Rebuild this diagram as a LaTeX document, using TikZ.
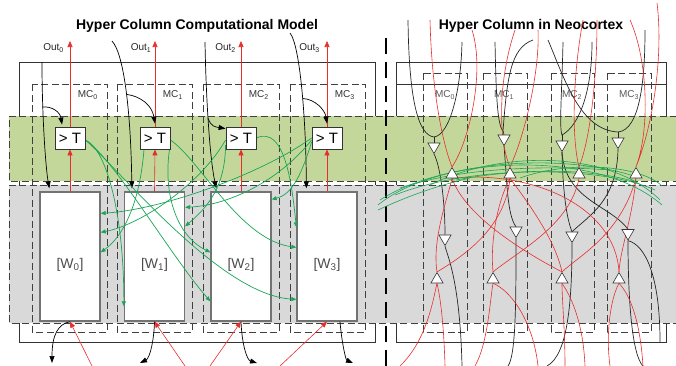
\documentclass[tikz,border=0pt]{standalone}
\usepackage{fontspec}
\setmainfont{Liberation Sans}
\usetikzlibrary{arrows.meta,shapes.geometric}
\pgfdeclarelayer{bg}
\pgfdeclarelayer{front}
\pgfsetlayers{bg,main,front}
\definecolor{bandgreen}{RGB}{196,215,155}
\definecolor{bandgrey}{RGB}{217,217,217}
\definecolor{lred}{RGB}{232,45,45}
\definecolor{lgreen}{RGB}{25,165,85}
\tikzset{
 outerbox/.style={draw=black!80, line width=0.8pt},
 bandb/.style={draw=black!75, line width=0.7pt, dash pattern=on 7pt off 3.5pt},
 mcbox/.style={draw=black!75, line width=0.7pt, dash pattern=on 7pt off 3.5pt},
 wbox/.style={draw=black!55, line width=1.3pt, fill=white, minimum width=60pt, minimum height=129pt, inner sep=0pt},
 tbox/.style={draw=black!80, line width=0.8pt, fill=white, minimum width=30pt, minimum height=22pt, inner sep=0pt, font=\fontsize{15}{15}\selectfont},
 redarr/.style={draw=lred, line width=0.6pt, -{Triangle[length=6pt,width=5pt]}},
 blkarr/.style={draw=black, line width=0.7pt, -{Triangle[length=7pt,width=5pt]}},
 grnarr/.style={draw=lgreen, line width=0.7pt, -{Triangle[length=5pt,width=4pt]}},
 redln/.style={draw=lred, line width=0.6pt},
 blkln/.style={draw=black!85, line width=0.7pt},
 grnln/.style={draw=lgreen, line width=0.6pt},
 trup/.style={regular polygon, regular polygon sides=3, draw=black!80, fill=white, minimum size=14pt, inner sep=0pt, line width=0.6pt},
 trdn/.style={trup, shape border rotate=180},
 mclab/.style={font=\fontsize{10}{12}\selectfont, text=black!80, anchor=east, inner sep=0pt},
 mclabr/.style={font=\fontsize{10}{12}\selectfont, text=black!65, inner sep=0pt},
 outlab/.style={font=\fontsize{10}{12}\selectfont, text=black!85, anchor=east, inner sep=0pt},
 wlab/.style={font=\fontsize{14}{16}\selectfont, text=black!70, inner sep=0pt},
 ttl/.style={font=\bfseries\fontsize{14}{16}\selectfont, inner sep=0pt},
 divider/.style={draw=black, line width=2.8pt, dash pattern=on 16pt off 8pt},
}
\begin{document}
\begin{tikzpicture}[x=1pt,y=-1pt]
\useasboundingbox (0,0) rectangle (676,365);
% ---------------- background layer ----------------
\begin{pgfonlayer}{bg}
 \draw[outerbox] (19,62) rectangle (375,342);
 \draw[outerbox] (396,62) rectangle (666,342);
 \coordinate (hl1) at (396,84); \coordinate (hl2) at (666,84);
 \draw[outerbox] (hl1) -- (hl2);
 \fill[bandgreen] (9,116) rectangle (677,181);
 \draw[bandb] (677,116) -- (9,116) -- (9,181) -- (677,181);
 \fill[bandgrey] (9,185) rectangle (677,323);
 \draw[bandb] (677,185) -- (9,185) -- (9,323) -- (677,323);
 % MC boxes left
 \draw[mcbox] (32,84) rectangle (107,332);
 \draw[mcbox] (117,84) rectangle (192,332);
 \draw[mcbox] (203,84) rectangle (279,332);
 \draw[mcbox] (290,84) rectangle (365,332);
 % MC boxes right
 \draw[mcbox] (423,73) rectangle (467,332);
 \draw[mcbox] (483,73) rectangle (527,332);
 \draw[mcbox] (551,73) rectangle (594,332);
 \draw[mcbox] (607,73) rectangle (651,332);
 % MC labels
 \node[mclab] (lm0) at (98,95) {MC\textsubscript{0}};
 \node[mclab] (lm1) at (183,95) {MC\textsubscript{1}};
 \node[mclab] (lm2) at (269,95) {MC\textsubscript{2}};
 \node[mclab] (lm3) at (355,95) {MC\textsubscript{3}};
 \node[mclabr] (rm0) at (445,95) {MC\textsubscript{0}};
 \node[mclabr] (rm1) at (504,95) {MC\textsubscript{1}};
 \node[mclabr] (rm2) at (572,95) {MC\textsubscript{2}};
 \node[mclabr] (rm3) at (629,95) {MC\textsubscript{3}};
 % W boxes
 \node[wbox] (W0) at (70,256.5) {};
 \node[wbox] (W1) at (154.5,256.5) {};
 \node[wbox] (W2) at (241,256.5) {};
 \node[wbox] (W3) at (327,256.5) {};
 \node[wlab] (W0l) at (70,264.5) {[W\textsubscript{0}]};
 \node[wlab] (W1l) at (154.5,264.5) {[W\textsubscript{1}]};
 \node[wlab] (W2l) at (241,264.5) {[W\textsubscript{2}]};
 \node[wlab] (W3l) at (327,264.5) {[W\textsubscript{3}]};
\end{pgfonlayer}
% ---------------- front layer: boxes and triangles ----------------
\begin{pgfonlayer}{front}
 \node[tbox] (T0) at (70,138) {> T};
 \node[tbox] (T1) at (155,138) {> T};
 \node[tbox] (T2) at (241,138) {> T};
 \node[tbox] (T3) at (327,138) {> T};
 \node[trdn] (D10) at (434,146.5) {};
 \node[trdn] (D11) at (504,138.5) {};
 \node[trdn] (D12) at (562,144.5) {};
 \node[trdn] (D13) at (618,141.5) {};
 \node[trup] (U10) at (452,174.5) {};
 \node[trup] (U11) at (510,174.5) {};
 \node[trup] (U12) at (579,174.5) {};
 \node[trup] (U13) at (636,174.5) {};
 \node[trdn] (D20) at (445,238.5) {};
 \node[trdn] (D21) at (516,230.5) {};
 \node[trdn] (D22) at (572,235.5) {};
 \node[trdn] (D23) at (628,233) {};
 \node[trup] (U20) at (437,279.5) {};
 \node[trup] (U21) at (493,279.5) {};
 \node[trup] (U22) at (562,279.5) {};
 \node[trup] (U23) at (619,279.5) {};
\end{pgfonlayer}
% ---------------- titles ----------------
\node[ttl] (title1) at (197,26) {Hyper Column Computational Model};
\node[ttl] (title2) at (531,26) {Hyper Column in Neocortex};
% ---------------- divider ----------------
\coordinate (dv1) at (386,38); \coordinate (dv2) at (386,366);
\draw[divider] (dv1) -- (dv2);
% ---------------- left panel: outputs ----------------
\coordinate (o0) at (70,41); \coordinate (o1) at (155,41);
\coordinate (o2) at (241,41); \coordinate (o3) at (327,41);
\draw[redarr] (T0.north) -- (o0);
\draw[redarr] (T1.north) -- (o1);
\draw[redarr] (T2.north) -- (o2);
\draw[redarr] (T3.north) -- (o3);
\node[outlab] (ol0) at (64,48) {Out\textsubscript{0}};
\node[outlab] (ol1) at (151.5,48) {Out\textsubscript{1}};
\node[outlab] (ol2) at (236,48) {Out\textsubscript{2}};
\node[outlab] (ol3) at (320,48) {Out\textsubscript{3}};
\draw[redarr] (W0.north) -- (T0.south);
\draw[redarr] (W1.north) -- (T1.south);
\draw[redarr] (W2.north) -- (T2.south);
\draw[redarr] (W3.north) -- (T3.south);
% ---------------- left panel: black inputs ----------------
\coordinate (i0) at (42,62);   \coordinate (b0) at (42.3,107);
\coordinate (i1) at (112,41);  \coordinate (b1) at (126.6,94.4);
\coordinate (i2) at (205,42);  \coordinate (b2) at (208.2,118.5);
\coordinate (i3) at (290,33);  \coordinate (b3) at (302.7,98.5);
\draw[blkarr] (i0) .. controls (42,120) and (46,170) .. ([xshift=10pt,yshift=3pt]W0.north west);
\draw[blkarr] (b0) .. controls (52,106) and (60,112) .. ([xshift=-8pt,yshift=2pt]T0.north);
\draw[blkarr] (i1) .. controls (125,55) and (131,120) .. ([xshift=8pt,yshift=3pt]W1.north west);
\draw[blkarr] (b1) .. controls (140,96) and (152,105) .. ([yshift=3pt]T1.north);
\draw[blkarr] (i2) .. controls (206,100) and (210,160) .. ([xshift=6pt,yshift=3pt]W2.north west);
\draw[blkarr] (b2) .. controls (211,127) and (216,127) .. ([yshift=-2pt]T2.north west);
\draw[blkarr] (i3) .. controls (300,45) and (306,120) .. ([xshift=10pt,yshift=3pt]W3.north west);
\draw[blkarr] (b3) .. controls (315,99) and (325,110) .. ([yshift=3pt]T3.north);
% ---------------- left panel: bottom ----------------
\coordinate (d0) at (52,363); \coordinate (d1) at (140,363);
\coordinate (d2) at (257,363); \coordinate (d3) at (353,363);
\draw[blkarr] (W0.south) .. controls (58,324) and (52,335) .. (d0);
\draw[blkarr] (W1.south) .. controls (154,340) and (150,358) .. (d1);
\draw[blkarr] (W2.south) .. controls (242,345) and (247,360) .. (d2);
\draw[blkarr] ([xshift=13pt]W3.south) .. controls (342,345) and (346,360) .. (d3);
\coordinate (rl0) at (92,366); \coordinate (rl1) at (185,366);
\coordinate (rl2) at (210,366); \coordinate (rl3) at (280,366);
\draw[redarr] (rl0) -- (W0.south);
\draw[redarr] (rl1) -- (W1.south);
\draw[redarr] (rl2) -- (W2.south);
\draw[redarr] (rl3) -- (W3.south);
% ---------------- left panel: green lateral connections ----------------
\draw[grnarr] ([yshift=-2pt]T0.east) .. controls (108,150) and (124,220) .. ([yshift=-115pt]W1.north west);
\draw[grnarr] ([yshift=-2pt]T0.east) .. controls (115,160) and (170,255) .. ([yshift=-110pt]W2.north west);
\draw[grnarr] ([yshift=-2pt]T0.east) .. controls (120,170) and (220,295) .. ([yshift=-108pt]W3.north west);
\draw[grnarr] ([xshift=-11pt]T1.south) .. controls (140,200) and (125,235) .. ([yshift=-61pt]W0.north east);
\draw[grnarr] ([yshift=-6pt]T1.east) .. controls (162,190) and (175,235) .. ([yshift=-61pt]W2.north west);
\draw[grnarr] ([yshift=-2pt]T1.east) .. controls (200,160) and (240,240) .. ([yshift=-56pt]W3.north west);
\draw[grnarr] ([yshift=-2pt]T2.west) .. controls (200,185) and (140,225) .. ([yshift=-41pt]W0.north east);
\draw[grnarr] ([yshift=-7pt]T2.west) .. controls (225,185) and (210,205) .. ([yshift=-35pt]W1.north east);
\draw[grnarr] (T2.east) .. controls (285,125) and (292,185) .. ([yshift=-36pt]W3.north west);
\draw[grnarr] (T3.west) .. controls (260,175) and (160,210) .. ([yshift=-22pt]W0.north east);
\draw[grnarr] ([yshift=-2pt]T3.west) .. controls (280,180) and (230,205) .. ([yshift=-16pt]W1.north east);
\draw[grnarr] ([yshift=-4pt]T3.west) .. controls (300,180) and (290,195) .. ([yshift=-8pt]W2.north east);
% ---------------- right panel: black paths ----------------
\coordinate (ka0) at (408,20);  \coordinate (kb0) at (462,42);  \coordinate (J0) at (434,137);
\coordinate (ka1) at (495,42);  \coordinate (kb1) at (533,40);  \coordinate (J1) at (503,131);
\coordinate (ka2) at (563,42);  \coordinate (kb2) at (592,42);  \coordinate (J2) at (562,135);
\coordinate (ka3) at (548,40);  \coordinate (kb3) at (645,30);  \coordinate (J3) at (618,132);
\draw[blkln] (ka0) .. controls (409,100) and (418,135) .. (J0) .. controls (450,135) and (461,90) .. (kb0);
\draw[blkln] (J0) -- (D10.north);
\draw[blkln] (ka1) .. controls (496,90) and (497,125) .. (J1) .. controls (507,80) and (510,48) .. (kb1);
\draw[blkln] (J1) -- (D11.north);
\draw[blkln] (ka2) .. controls (562,90) and (559,128) .. (J2) .. controls (580,125) and (592,90) .. (kb2);
\draw[blkln] (J2) -- (D12.north);
\draw[blkln] (ka3) .. controls (565,80) and (580,130) .. (J3) .. controls (640,130) and (645,80) .. (kb3);
\draw[blkln] (J3) -- (D13.north);
\draw[blkln] (D10.south) .. controls (440,165) and (445,200) .. (D20.north);
\draw[blkln] (D11.south) .. controls (507,180) and (507,215) .. (D21.north);
\draw[blkln] (D12.south) .. controls (563,200) and (568,222) .. (D22.north);
\draw[blkln] (D12.south) .. controls (565,200) and (610,205) .. (D23.north);
\draw[blkln] (D13.south) .. controls (617,200) and (590,215) .. (D22.north);
\coordinate (kc0) at (462,366); \coordinate (kc1) at (508,366);
\coordinate (kc2) at (547,366); \coordinate (kc3) at (643,366);
\coordinate (kd3) at (660,342);
\draw[blkln] (D20.south) .. controls (447,255) and (460,280) .. (kc0);
\draw[blkln] (D21.south) .. controls (516,300) and (516,355) .. (kc1);
\draw[blkln] (D22.south) .. controls (572,300) and (568,355) .. (kc2);
\draw[blkln] (D23.south) .. controls (628,300) and (632,355) .. (kc3);
\draw[blkln] (D23.south) .. controls (645,245) and (660,275) .. (kd3);
% ---------------- right panel: red paths ----------------
\coordinate (ra0) at (430,20); \coordinate (rb0) at (472,30);
\coordinate (ra1) at (515,30); \coordinate (rb1) at (538,30);
\coordinate (ra2) at (583,20); \coordinate (rb2) at (597,20);
\coordinate (ra3) at (630,20); \coordinate (rb3) at (657,3);
\draw[redln] (ra0) .. controls (432,100) and (445,150) .. (U10.north) .. controls (470,140) and (485,70) .. (rb0);
\draw[redln] (ra1) .. controls (498,80) and (498,140) .. (U11.north) .. controls (525,135) and (540,70) .. (rb1);
\draw[redln] (ra2) .. controls (572,80) and (572,140) .. (U12.north) .. controls (590,140) and (597,80) .. (rb2);
\draw[redln] (ra3) .. controls (648,60) and (650,130) .. (U13.north) .. controls (655,120) and (663,50) .. (rb3);
\draw[redln] (U10.south) .. controls (447,200) and (432,240) .. (U20.north);
\draw[redln] (U10.south) .. controls (465,215) and (520,250) .. (U22.north);
\draw[redln] (U10.south) .. controls (530,170) and (615,205) .. (U23.north);
\draw[redln] (U11.south) .. controls (498,200) and (490,240) .. (U21.north);
\draw[redln] (U11.south) .. controls (505,230) and (460,258) .. (U20.north);
\draw[redln] (U11.south) .. controls (530,205) and (555,240) .. (U22.north);
\draw[redln] (U12.south) .. controls (570,225) and (520,250) .. (U21.north);
\draw[redln] (U13.south) .. controls (632,220) and (620,250) .. (U23.north);
\draw[redln] (U13.south) .. controls (620,235) and (580,255) .. (U22.north);
\coordinate (re0) at (400,366); \coordinate (rf0) at (445,366);
\coordinate (re1) at (475,366); \coordinate (rf1) at (538,366);
\coordinate (re2) at (565,366); \coordinate (rf2) at (585,366);
\coordinate (re3) at (610,366); \coordinate (rf3) at (643,366);
\draw[redln] (re0) .. controls (427,340) and (433,300) .. (U20.south);
\draw[redln] (rf0) .. controls (444,330) and (441,300) .. (U20.south);
\draw[redln] (re1) .. controls (488,343) and (490,300) .. (U21.south);
\draw[redln] (rf1) .. controls (533,320) and (510,290) .. (U21.south);
\draw[redln] (re2) .. controls (565,330) and (562,300) .. (U22.south);
\draw[redln] (rf2) .. controls (583,320) and (570,295) .. (U22.south);
\draw[redln] (re3) .. controls (605,330) and (612,295) .. (U23.south);
\draw[redln] (rf3) .. controls (640,320) and (630,295) .. (U23.south);
% ---------------- right panel: green arcs ----------------
\coordinate (ga1) at (378,205); \coordinate (gb1) at (640,178);
\coordinate (ga2) at (380,200); \coordinate (gb2) at (662,205);
\coordinate (ga3) at (395,195); \coordinate (gb3) at (655,190);
\coordinate (ga4) at (430,185); \coordinate (gb4) at (660,200);
\coordinate (ga5) at (456,180); \coordinate (gb5) at (636,182);
\coordinate (ga6) at (378,210); \coordinate (gb6) at (470,178);
\coordinate (ga7) at (400,188); \coordinate (gb7) at (610,170);
\coordinate (ga8) at (520,178); \coordinate (gb8) at (662,186);
\draw[grnln] (ga1) .. controls (430,162) and (560,150) .. (gb1);
\draw[grnln] (ga2) .. controls (450,155) and (600,150) .. (gb2);
\draw[grnln] (ga3) .. controls (470,165) and (600,165) .. (gb3);
\draw[grnln] (ga4) .. controls (500,150) and (610,150) .. (gb4);
\draw[grnln] (ga5) .. controls (520,168) and (590,168) .. (gb5);
\draw[grnln] (ga6) .. controls (410,195) and (440,185) .. (gb6);
\draw[grnln] (ga7) .. controls (460,168) and (540,165) .. (gb7);
\draw[grnln] (ga8) .. controls (570,160) and (640,165) .. (gb8);
\end{tikzpicture}
\end{document}
